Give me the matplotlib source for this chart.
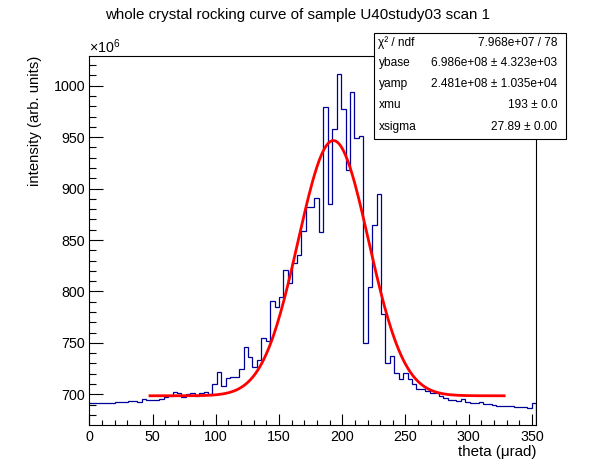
import numpy as np
import matplotlib
matplotlib.use("Agg")
import matplotlib.pyplot as plt
from matplotlib.patches import Rectangle
from matplotlib.ticker import MultipleLocator

plt.rcParams['font.family'] = ['Liberation Sans', 'DejaVu Sans']
plt.rcParams['mathtext.fontset'] = 'custom'
plt.rcParams['mathtext.rm'] = 'Liberation Sans'
plt.rcParams['mathtext.it'] = 'Liberation Sans:italic'

################## data (intensity in units of 1e6) ##################
bin_start = -0.79   # urad
bin_width = 3.5065  # urad
counts = [691.3, 691.3, 691.3, 691.3, 691.3, 691.3, 692.2, 692.2, 692.2, 693.2,
          693.2, 692.2, 695.1, 694.2, 694.2, 694.2, 695.7, 697.4, 698.6, 701.9,
          701.0, 697.4, 700.0, 701.0, 698.6, 701.3, 701.9, 700.6, 709.7, 721.4,
          708.0, 715.5, 716.5, 716.5, 724.3, 745.7, 736.6, 726.5, 733.3, 754.4,
          751.8, 790.7, 784.6, 794.3, 820.5, 807.9, 827.3, 835.4, 858.7, 882.4,
          882.4, 890.5, 858.0, 979.6, 884.7, 957.6, 1011.4, 977.0, 918.0, 994.2,
          948.9, 951.0, 750.0, 804.0, 864.6, 894.4, 777.8, 730.1, 737.2, 721.0,
          714.6, 721.0, 714.6, 710.0, 704.9, 704.9, 703.2, 701.0, 701.0, 698.3,
          696.1, 694.5, 694.5, 694.0, 695.1, 692.8, 691.3, 691.3, 692.2, 690.7,
          690.7, 689.6, 689.0, 689.0, 689.0, 689.0, 687.4, 687.4, 687.4, 686.4,
          691.3]

# fit parameters
ybase = 6.986e+08
yamp = 2.481e+08
xmu = 193.0
xsigma = 27.89
fit_range = (48.0, 328.0)

stat_names = ["χ² / ndf", "ybase", "yamp", "xmu", "xsigma"]
stat_values = ["7.968e+07 / 78", "6.986e+08 ± 4.323e+03", "2.481e+08 ± 1.035e+04",
               "193 ± 0.0", "27.89 ± 0.00"]

def gaus_base(x):
    return (ybase + yamp*np.exp(-0.5*((x-xmu)/xsigma)**2))/1e6

################## plot ##################
fig = plt.figure(figsize=(5.96, 4.72), dpi=100)
ax = fig.add_axes([0.1498, 0.1000, 0.7500, 0.7820])

edges = bin_start + bin_width*np.arange(len(counts)+1)
ax.stairs(counts, edges, color='#000099', lw=0.9)

xf = np.linspace(fit_range[0], fit_range[1], 300)
ax.plot(xf, gaus_base(xf), color='red', lw=2.0)

ax.set_xlim(0, 353.4)
ax.set_ylim(670.4, 1029.2)

ax.xaxis.set_major_locator(MultipleLocator(50))
ax.xaxis.set_minor_locator(MultipleLocator(10))
ax.yaxis.set_major_locator(MultipleLocator(50))
ax.yaxis.set_minor_locator(MultipleLocator(10))
ax.tick_params(axis='x', which='major', direction='in', length=7.8, width=0.8, labelsize=10.3, pad=4)
ax.tick_params(axis='x', which='minor', direction='in', length=3.9, width=0.8)
ax.tick_params(axis='y', which='major', direction='in', length=10.0, width=0.8, labelsize=10.3, pad=3)
ax.tick_params(axis='y', which='minor', direction='in', length=5.0, width=0.8)
for s in ax.spines.values():
    s.set_linewidth(0.8)

fig.text(0.5, 1-15/472, "whole crystal rocking curve of sample U40study03 scan 1",
         ha='center', va='center', fontsize=10.9)
fig.text(536/596, 1-452/472, "theta (μrad)", ha='right', va='center', fontsize=10.9)
fig.text(35/596, 1-56/472, "intensity (arb. units)", ha='center', va='top',
         rotation=90, fontsize=10.7)
fig.text(89/596, 1-53/472, "×10$^{6}$", ha='left', va='baseline', fontsize=10.3)

# stats box
bx0, bx1 = 373.5/596, 566/596
by0, by1 = 1-139/472, 1-33/472
fig.patches.append(Rectangle((bx0, by0), bx1-bx0, by1-by0, transform=fig.transFigure,
                             facecolor='white', edgecolor='black', lw=0.8, zorder=5))
rows = [42.7, 63.3, 84.3, 105.0, 126.7]
for name, val, yr in zip(stat_names, stat_values, rows):
    fig.text(378.5/596, 1-yr/472, name, ha='left', va='center', fontsize=8.6, zorder=6)
    fig.text(557/596, 1-yr/472, val, ha='right', va='center', fontsize=8.6, zorder=6)

fig.savefig("out.png", dpi=100)
